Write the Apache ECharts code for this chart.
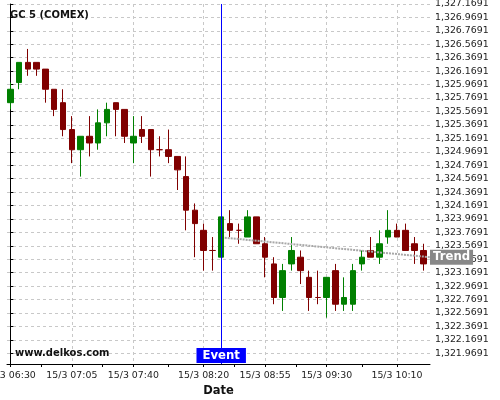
<!DOCTYPE html>
<html><head><meta charset="utf-8">
<script src="https://cdn.jsdelivr.net/npm/echarts@6/dist/echarts.min.js"></script>
<style>html,body{margin:0;padding:0;background:#fff}#c{width:500px;height:400px}</style>
</head><body><div id="c"></div>
<script>
const times = ['06:30','06:35','06:40','06:45','06:50','06:55','07:00','07:05','07:10','07:15','07:20','07:25',
  '07:30','07:35','07:40','07:45','07:50','07:55','08:00','08:05','08:10','08:15','08:20','08:25',
  '08:30','08:35','08:40','08:45','08:50','08:55','09:00','09:05','09:10','09:15','09:20','09:25',
  '09:30','09:35','09:40','09:45','09:50','09:55','10:00','10:05','10:10','10:15','10:20','10:25'];
const opens = [1325.7,1326.0,1326.3,1326.3,1326.2,1325.9,1325.7,1325.3,1325.0,1325.2,1325.1,1325.4,
  1325.7,1325.6,1325.1,1325.3,1325.3,1325.0,1325.0,1324.9,1324.6,1324.1,1323.8,1323.5,
  1323.4,1323.9,1323.8,1323.7,1324.0,1323.6,1323.3,1322.8,1323.3,1323.4,1323.1,1322.8,
  1322.8,1323.2,1322.7,1322.7,1323.3,1323.5,1323.4,1323.7,1323.8,1323.8,1323.6,1323.5];
const closes = [1325.9,1326.3,1326.2,1326.2,1325.9,1325.6,1325.3,1325.0,1325.2,1325.1,1325.4,1325.6,
  1325.6,1325.2,1325.2,1325.2,1325.0,1325.0,1324.9,1324.7,1324.1,1323.9,1323.5,1323.5,
  1324.0,1323.8,1323.8,1324.0,1323.6,1323.4,1322.8,1323.2,1323.5,1323.2,1322.8,1322.8,
  1323.1,1322.7,1322.8,1323.2,1323.4,1323.4,1323.6,1323.8,1323.7,1323.5,1323.5,1323.3];
const lows = [1325.6,1325.9,1326.1,1326.1,1325.7,1325.5,1325.2,1324.8,1324.6,1324.9,1325.0,1325.2,
  1325.2,1325.1,1324.8,1325.1,1324.6,1324.9,1324.8,1324.4,1323.8,1323.4,1323.2,1323.2,
  1323.4,1323.7,1323.6,1323.7,1323.6,1323.1,1322.7,1322.6,1323.2,1323.0,1322.6,1322.7,
  1322.5,1322.6,1322.6,1322.6,1323.2,1323.4,1323.3,1323.6,1323.7,1323.5,1323.3,1323.2];
const highs = [1326.0,1326.3,1326.5,1326.3,1326.2,1325.9,1325.9,1325.5,1325.2,1325.5,1325.6,1325.7,
  1325.7,1325.6,1325.5,1325.5,1325.3,1325.2,1325.3,1324.9,1324.9,1324.2,1323.9,1323.7,
  1324.0,1324.1,1323.9,1324.1,1324.0,1323.7,1323.4,1323.3,1323.7,1323.5,1323.2,1323.2,
  1323.1,1323.3,1323.1,1323.3,1323.5,1323.7,1323.8,1324.1,1323.9,1323.9,1323.7,1323.6];
const xLabelIdx = [0,7,14,22,29,36,44];
const xTickPos = [0,3.5,7,10.5,14,18,22,25.5,29,32.5,36,40,44];
const yTicks = [1321.9691,1322.1691,1322.3691,1322.5691,1322.7691,1322.9691,1323.1691,1323.3691,1323.5691,
  1323.7691,1323.9691,1324.1691,1324.3691,1324.5691,1324.7691,1324.9691,1325.1691,1325.3691,1325.5691,
  1325.7691,1325.9691,1326.1691,1326.3691,1326.5691,1326.7691,1326.9691,1327.1691];
const eventIdx = 24;
const trendX = [24.4, 47.76];
const trendY = [1323.69, 1323.40];
const Y_MIN = 1321.81, Y_MAX = 1327.1691;
const X_MIN = -0.376, X_MAX = 47.76;

const FONT = 'DejaVu Sans';
const candles = opens.map((o, i) => [i, o, closes[i], lows[i], highs[i]]);
const trend = trendX.map((x, i) => [x, trendY[i]]);
function fmtY(v) {
  const s = v.toFixed(4).split('.');
  return s[0].replace(/\B(?=(\d{3})+(?!\d))/g, ',') + '.' + s[1];
}
const grid = {left: 7, right: 70, top: 4, bottom: 36, containLabel: false, outerBoundsMode: 'none'};
const chart = echarts.init(document.getElementById('c'));
chart.setOption({
  animation: false,
  textStyle: {fontFamily: FONT},
  title: [
    {text: 'GC 5 (COMEX)', left: 10, top: 10, padding: 0,
     textStyle: {fontFamily: FONT, fontSize: 10, fontWeight: 'bold', color: '#111'}},
    {text: 'www.delkos.com', left: 15, top: 348, padding: 0,
     textStyle: {fontFamily: FONT, fontSize: 10, fontWeight: 'bold', color: '#111'}}
  ],
  grid: grid,
  xAxis: [
    {type: 'value', min: X_MIN, max: X_MAX, position: 'bottom',
     name: 'Date', nameLocation: 'middle', nameGap: 18,
     nameTextStyle: {fontFamily: FONT, fontSize: 11.5, fontWeight: 'bold', color: '#111'},
     axisLine: {show: true, lineStyle: {color: '#000', width: 1}},
     axisTick: {show: true, length: 3, customValues: xTickPos, lineStyle: {color: '#000'}},
     axisLabel: {customValues: xLabelIdx, formatter: v => '15/3 ' + times[Math.round(v)],
       fontFamily: FONT, fontSize: 9.4, color: '#222', margin: 7},
     splitLine: {show: false}},
    {type: 'value', min: X_MIN, max: X_MAX, position: 'bottom',
     axisLine: {show: false}, axisLabel: {show: false},
     axisTick: {show: false, customValues: xLabelIdx},
     splitLine: {show: true, lineStyle: {type: [3, 3], color: '#c8c8c8', width: 1}}}
  ],
  yAxis: {type: 'value', position: 'right', min: Y_MIN, max: Y_MAX, scale: true,
    axisLine: {show: true, lineStyle: {color: '#000', width: 1}},
    axisTick: {show: true, length: 3, customValues: yTicks, lineStyle: {color: '#000'}},
    axisLabel: {customValues: yTicks, formatter: fmtY, fontFamily: FONT, fontSize: 9.4, color: '#222', margin: 5},
    splitLine: {show: true, lineStyle: {type: [3, 3], color: '#c8c8c8', width: 1}}},
  series: [
    {type: 'candlestick', xAxisIndex: 0, data: candles, barWidth: 6,
     encode: {x: 0, y: [1, 2, 3, 4]},
     itemStyle: {color: '#008000', color0: '#800000', borderColor: '#008000', borderColor0: '#800000',
       borderColorDoji: '#800000', borderWidth: 1},
     markLine: {silent: true, symbol: ['none', 'none'], label: {show: false},
       lineStyle: {color: '#0000ff', width: 1, type: 'solid'},
       data: [{xAxis: eventIdx}]},
     markPoint: {silent: true, data: [{coord: [eventIdx, Y_MIN], symbolSize: 0,
       label: {show: true, position: 'top', distance: 1, formatter: 'Event',
         backgroundColor: '#0000ff', color: '#fff', fontFamily: FONT, fontWeight: 'bold',
         fontSize: 11.7, lineHeight: 14, padding: [1, 6, 0, 6]}}]}
    },
    {type: 'line', xAxisIndex: 0, data: trend, showSymbol: false, silent: true,
     lineStyle: {type: [2, 1], width: 2, color: '#a8a8a8'},
     endLabel: {show: true, formatter: 'Trend', distance: 0, backgroundColor: '#888',
       color: '#fff', fontFamily: FONT, fontWeight: 'bold', fontSize: 11.7, lineHeight: 14,
       padding: [1, 3, 0, 3]}}
  ]
});
</script></body></html>
